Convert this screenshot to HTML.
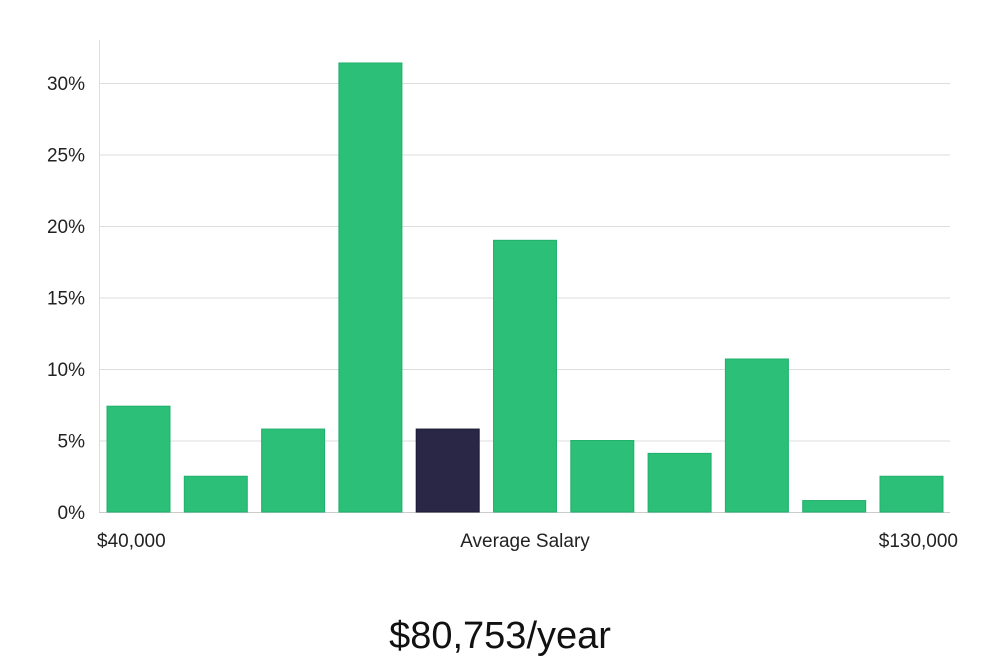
<!DOCTYPE html>
<html><head><meta charset="utf-8"><style>
body{margin:0;background:#fff;width:1000px;height:660px;overflow:hidden;font-family:"Liberation Sans","DejaVu Sans",sans-serif;}
</style></head><body>
<svg width="1000" height="660" xmlns="http://www.w3.org/2000/svg">
<g id="grid"></g><g id="bars"></g><g id="labels"></g>
<line x1="99.5" y1="40" x2="99.5" y2="512" stroke="#ddd"/>
<text x="97" y="547" font-size="19" fill="#222">$40,000</text>
<text x="525" y="547" font-size="19" fill="#222" text-anchor="middle">Average Salary</text>
<text x="958" y="547" font-size="19" fill="#222" text-anchor="end">$130,000</text>
<text x="500" y="648" font-size="38" fill="#111" text-anchor="middle" font-weight="300">$80,753/year</text>
</svg>
<script>
const values=[7.4,2.5,5.8,31.4,5.8,19.0,5.0,4.1,10.7,0.8,2.5];
const highlightIndex=[4];
const ticks=[0,5,10,15,20,25,30];
const tickLabels=["0%","5%","10%","15%","20%","25%","30%"];
const NS="http://www.w3.org/2000/svg";
const y=v=>512-v*(429/30);
const x=i=>107+i*77.3;
const grid=document.getElementById('grid'),bars=document.getElementById('bars'),labels=document.getElementById('labels');
ticks.forEach((t,k)=>{
 const l=document.createElementNS(NS,'line');
 l.setAttribute('x1',99);l.setAttribute('x2',950);l.setAttribute('y1',y(t)+0.5);l.setAttribute('y2',y(t)+0.5);
 l.setAttribute('stroke',t===0?'#ccc':'#ddd');
 
 
 grid.appendChild(l);
 const tx=document.createElementNS(NS,'text');
 tx.setAttribute('x',85);tx.setAttribute('y',y(t)+7);tx.setAttribute('text-anchor','end');tx.setAttribute('font-size','19');tx.setAttribute('fill','#222');
 tx.textContent=tickLabels[k];
 
 
 labels.appendChild(tx);
});
values.forEach((v,i)=>{
 const r=document.createElementNS(NS,'rect');
 const hl=highlightIndex.includes(i);
 r.setAttribute('x',x(i));r.setAttribute('y',y(v));r.setAttribute('width',63);r.setAttribute('height',512-y(v));
 r.setAttribute('fill',hl?'#292646':'#2bbf78');
 r.setAttribute('stroke',hl?'#1c1a33':'#22b06c');r.setAttribute('stroke-width','1');
 
 
 bars.appendChild(r);
});
</script>
</body></html>
